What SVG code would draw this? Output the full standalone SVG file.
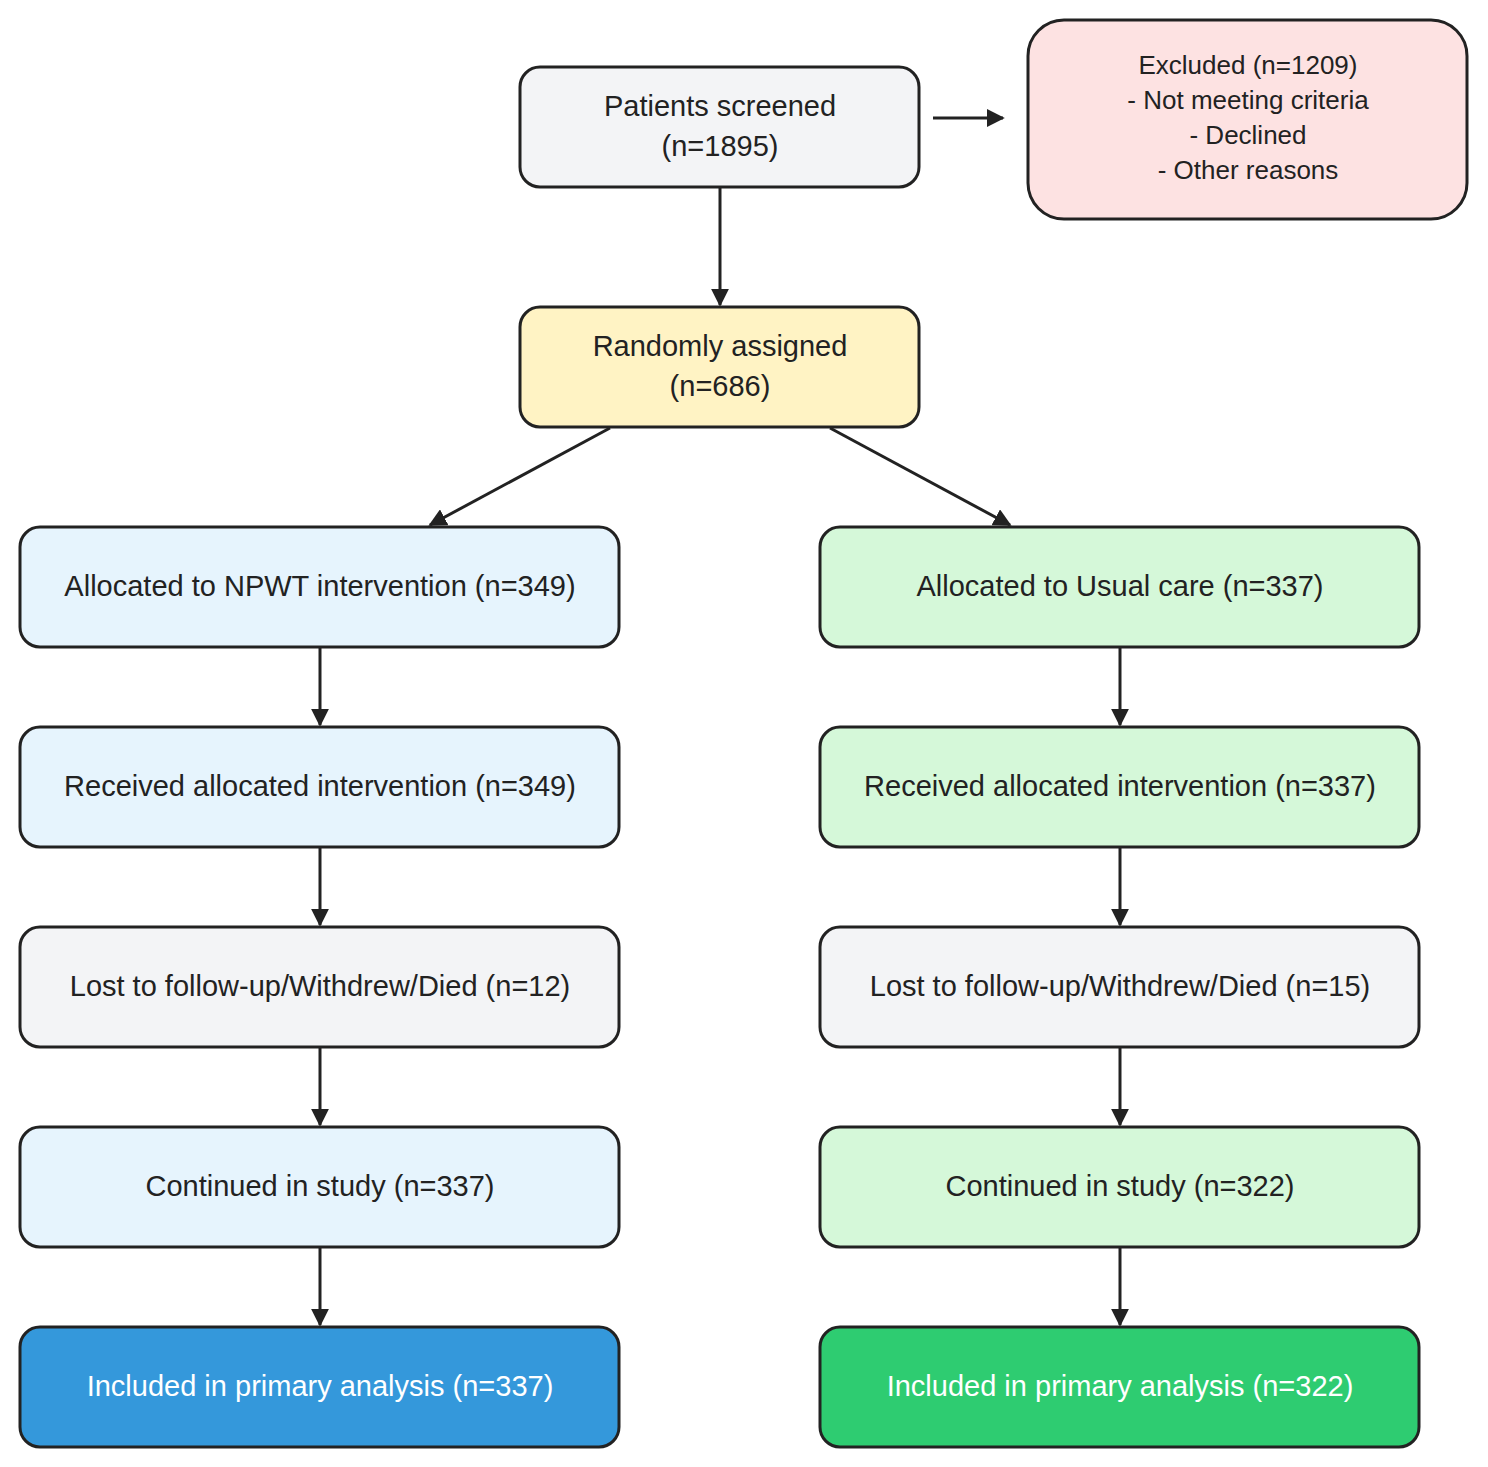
<svg xmlns="http://www.w3.org/2000/svg" width="1488" height="1467" viewBox="0 0 1488 1467">
<defs>
<marker id="ah" viewBox="0 0 10 10" refX="9" refY="5" markerWidth="6" markerHeight="6" markerUnits="strokeWidth" orient="auto"><path d="M0,0 L10,5 L0,10 z" fill="#222"/></marker>
<style>
rect{stroke:#222;stroke-width:3}
text{font-family:"Liberation Sans",Arial,sans-serif;font-size:29px;fill:#222;text-anchor:middle}
.w{fill:#fff}
.s{font-size:26px}
.c line{stroke:#222;stroke-width:3;marker-end:url(#ah)}
.gray{fill:#f3f4f6}.blue{fill:#e6f4fd}.green{fill:#d5f8d9}
</style>
</defs>
<rect width="1488" height="1467" fill="#fff" style="stroke:none"/>
<g class="c">
<line x1="720" y1="187" x2="720" y2="305"/>
<line x1="933" y1="118" x2="1003" y2="118"/>
<line x1="610" y1="428" x2="430" y2="525"/>
<line x1="830" y1="428" x2="1010" y2="525"/>
<line x1="320" y1="647" x2="320" y2="725"/><line x1="320" y1="847" x2="320" y2="925"/><line x1="320" y1="1047" x2="320" y2="1125"/><line x1="320" y1="1247" x2="320" y2="1325"/>
<line x1="1120" y1="647" x2="1120" y2="725"/><line x1="1120" y1="847" x2="1120" y2="925"/><line x1="1120" y1="1047" x2="1120" y2="1125"/><line x1="1120" y1="1247" x2="1120" y2="1325"/>
</g>
<g id="screened"><rect x="520" y="67" width="399" height="120" rx="20" class="gray"/><text x="720" y="116">Patients screened</text><text x="720" y="156">(n=1895)</text></g>
<g id="excluded"><rect x="1028" y="20" width="439" height="199" rx="36" fill="#fde2e2"/><text class="s" x="1248" y="74">Excluded (n=1209)</text><text class="s" x="1248" y="109">- Not meeting criteria</text><text class="s" x="1248" y="144">- Declined</text><text class="s" x="1248" y="179">- Other reasons</text></g>
<g id="random"><rect x="520" y="307" width="399" height="120" rx="20" fill="#fff3c4"/><text x="720" y="356">Randomly assigned</text><text x="720" y="396">(n=686)</text></g>
<g id="l1"><rect x="20" y="527" width="599" height="120" rx="20" class="blue"/><text x="320" y="596">Allocated to NPWT intervention (n=349)</text></g>
<g id="l2"><rect x="20" y="727" width="599" height="120" rx="20" class="blue"/><text x="320" y="796">Received allocated intervention (n=349)</text></g>
<g id="l3"><rect x="20" y="927" width="599" height="120" rx="20" class="gray"/><text x="320" y="996">Lost to follow-up/Withdrew/Died (n=12)</text></g>
<g id="l4"><rect x="20" y="1127" width="599" height="120" rx="20" class="blue"/><text x="320" y="1196">Continued in study (n=337)</text></g>
<g id="l5"><rect x="20" y="1327" width="599" height="120" rx="20" fill="#3498db"/><text class="w" x="320" y="1396">Included in primary analysis (n=337)</text></g>
<g id="r1"><rect x="820" y="527" width="599" height="120" rx="20" class="green"/><text x="1120" y="596">Allocated to Usual care (n=337)</text></g>
<g id="r2"><rect x="820" y="727" width="599" height="120" rx="20" class="green"/><text x="1120" y="796">Received allocated intervention (n=337)</text></g>
<g id="r3"><rect x="820" y="927" width="599" height="120" rx="20" class="gray"/><text x="1120" y="996">Lost to follow-up/Withdrew/Died (n=15)</text></g>
<g id="r4"><rect x="820" y="1127" width="599" height="120" rx="20" class="green"/><text x="1120" y="1196">Continued in study (n=322)</text></g>
<g id="r5"><rect x="820" y="1327" width="599" height="120" rx="20" fill="#2ecc71"/><text class="w" x="1120" y="1396">Included in primary analysis (n=322)</text></g>
</svg>
